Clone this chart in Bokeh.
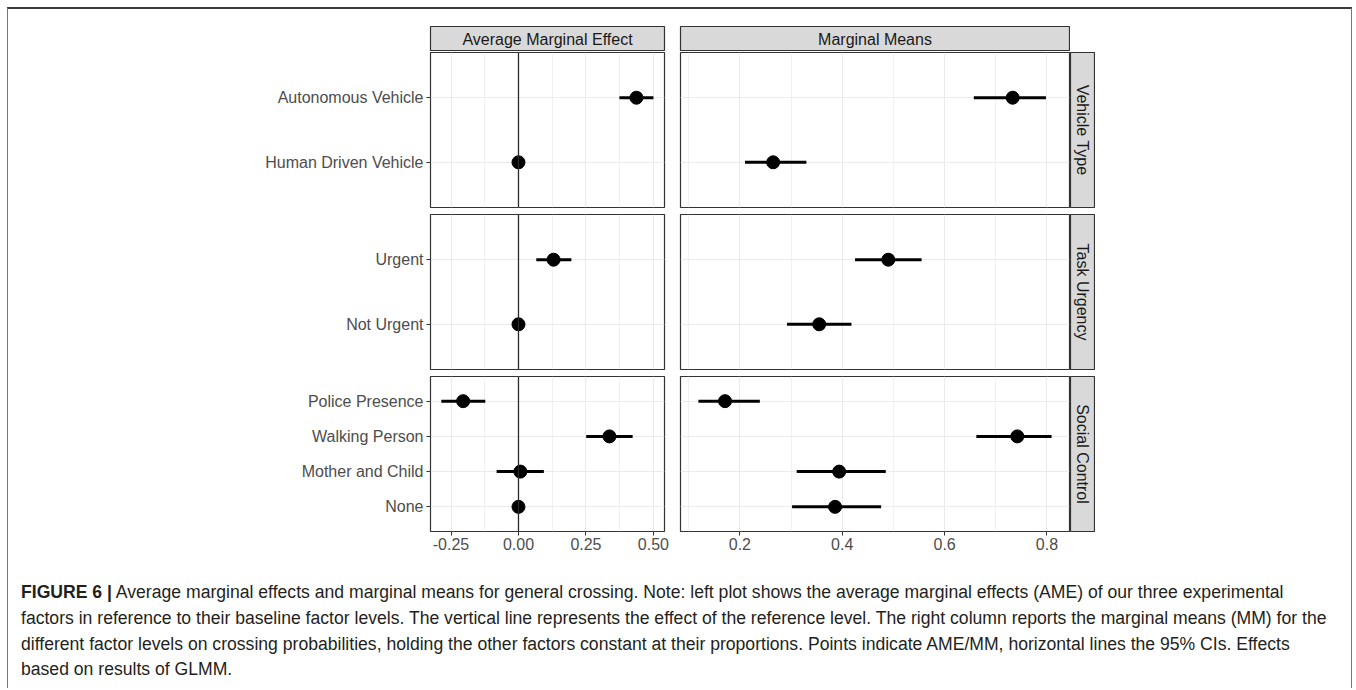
import math
from bokeh.plotting import figure
from bokeh.models import (FactorRange, Range1d, FixedTicker, Span, Label, Div,
                          CategoricalTicker, Grid, PrintfTickFormatter)
from bokeh.layouts import row, column
from bokeh.embed import file_html
from bokeh.resources import INLINE

# ---------------- data ----------------
col_titles = ["Average Marginal Effect", "Marginal Means"]
row_titles = ["Vehicle Type", "Task Urgency", "Social Control"]

vehicle_levels = ["Autonomous Vehicle", "Human Driven Vehicle"]
vehicle_ame = [0.437, 0.0]
vehicle_ame_lo = [0.374, 0.0]
vehicle_ame_hi = [0.500, 0.0]
vehicle_mm = [0.733, 0.265]
vehicle_mm_lo = [0.657, 0.210]
vehicle_mm_hi = [0.798, 0.330]

urgency_levels = ["Urgent", "Not Urgent"]
urgency_ame = [0.130, 0.0]
urgency_ame_lo = [0.066, 0.0]
urgency_ame_hi = [0.196, 0.0]
urgency_mm = [0.490, 0.355]
urgency_mm_lo = [0.425, 0.292]
urgency_mm_hi = [0.555, 0.418]

social_levels = ["Police Presence", "Walking Person", "Mother and Child", "None"]
social_ame = [-0.205, 0.337, 0.007, 0.0]
social_ame_lo = [-0.286, 0.251, -0.081, 0.0]
social_ame_hi = [-0.123, 0.423, 0.094, 0.0]
social_mm = [0.171, 0.742, 0.394, 0.386]
social_mm_lo = [0.119, 0.662, 0.311, 0.302]
social_mm_hi = [0.239, 0.809, 0.485, 0.476]

ame_ticks = [-0.25, 0.0, 0.25, 0.50]
ame_minor = [-0.125, 0.125, 0.375]
ame_limits = (-0.326, 0.541)
mm_ticks = [0.2, 0.4, 0.6, 0.8]
mm_minor = [0.1, 0.3, 0.5, 0.7]
mm_limits = (0.084, 0.844)

caption_lines = [
    "Average marginal effects and marginal means for general crossing. Note: left plot shows the average marginal effects (AME) of our three experimental",
    "factors in reference to their baseline factor levels. The vertical line represents the effect of the reference level. The right column reports the marginal means (MM) for the",
    "different factor levels on crossing probabilities, holding the other factors constant at their proportions. Points indicate AME/MM, horizontal lines the 95% CIs. Effects",
    "based on results of GLMM.",
]

# ---------------- style ----------------
FONT = "Liberation Sans"
GRID = "#EBEBEB"
DARK = "#333333"
STRIP_FILL = "#D9D9D9"
TICK_TXT = "#4D4D4D"
FS = "16px"

LEFT_W = (422, 234, 8)   # border left, frame, border right
RIGHT_W = (8, 389, 1)
FRAME_H = 155


def make_panel(levels, est, lo, hi, limits, ticks, minor, is_left, is_bottom):
    fr = FactorRange(*list(reversed(levels)), range_padding=0.2,
                     range_padding_units="absolute")
    bl, fw, br = LEFT_W if is_left else RIGHT_W
    bb = 30 if is_bottom else 6
    p = figure(width=bl + fw + br, height=1 + FRAME_H + bb,
               x_range=Range1d(*limits), y_range=fr,
               x_axis_location="below" if is_bottom else None,
               y_axis_location="left" if is_left else None,
               output_backend="svg", toolbar_location=None)
    p.min_border_left = bl
    p.min_border_right = br
    p.min_border_top = 1
    p.min_border_bottom = bb
    p.background_fill_color = "white"
    p.border_fill_color = "white"
    p.outline_line_color = DARK
    p.outline_line_width = 1.2
    p.center = [r for r in p.center if not isinstance(r, Grid)]
    p.add_layout(Grid(dimension=0, ticker=FixedTicker(ticks=ticks, minor_ticks=minor),
                      grid_line_color=GRID, grid_line_width=1.1,
                      minor_grid_line_color=GRID, minor_grid_line_width=0.7))
    p.add_layout(Grid(dimension=1, ticker=CategoricalTicker(),
                      grid_line_color=GRID, grid_line_width=1.1))
    if is_left:
        p.add_layout(Span(location=0, dimension="height", line_color="#2a2a2a",
                          line_width=1.3))
        ax = p.yaxis[0]
        ax.axis_line_color = None
        ax.major_tick_in = 0
        ax.major_tick_out = 4
        ax.major_tick_line_color = DARK
        ax.major_label_text_font = FONT
        ax.major_label_text_font_size = FS
        ax.major_label_text_color = TICK_TXT
        ax.major_label_standoff = 3
    if is_bottom:
        ax = p.xaxis[0]
        ax.ticker = FixedTicker(ticks=ticks)
        ax.formatter = PrintfTickFormatter(format="%.2f" if is_left else "%.1f")
        ax.axis_line_color = None
        ax.major_tick_in = 0
        ax.major_tick_out = 4
        ax.minor_tick_line_color = None
        ax.major_tick_line_color = DARK
        ax.major_label_text_font = FONT
        ax.major_label_text_font_size = FS
        ax.major_label_text_color = TICK_TXT
        ax.major_label_standoff = 2
    p.segment(x0=lo, y0=levels, x1=hi, y1=levels, line_color="black",
              line_width=3)
    p.scatter(x=est, y=levels, size=13, fill_color="black", line_color="black")
    return p


def strip_top(text, is_left):
    bl, fw, br = LEFT_W if is_left else RIGHT_W
    p = figure(width=bl + fw + br, height=17 + 25, x_range=Range1d(0, 1),
               y_range=Range1d(0, 1), x_axis_location=None, y_axis_location=None,
               output_backend="svg", toolbar_location=None)
    p.min_border_left = bl
    p.min_border_right = br
    p.min_border_top = 17
    p.min_border_bottom = 0
    p.grid.visible = False
    p.background_fill_color = STRIP_FILL
    p.border_fill_color = "white"
    p.outline_line_color = DARK
    p.outline_line_width = 1.2
    p.add_layout(Label(x=0.5, y=0.5, text=text, text_align="center",
                       text_baseline="middle", text_font=FONT, text_font_size=FS,
                       text_color="#1A1A1A"))
    return p


def strip_right(text, is_bottom):
    bb = 30 if is_bottom else 6
    p = figure(width=25, height=1 + FRAME_H + bb, x_range=Range1d(0, 1),
               y_range=Range1d(0, 1), x_axis_location=None, y_axis_location=None,
               output_backend="svg", toolbar_location=None)
    p.min_border_left = 0
    p.min_border_right = 1
    p.min_border_top = 1
    p.min_border_bottom = bb
    p.grid.visible = False
    p.background_fill_color = STRIP_FILL
    p.border_fill_color = "white"
    p.outline_line_color = DARK
    p.outline_line_width = 1.2
    p.add_layout(Label(x=0.5, y=0.5, text=text, text_align="center",
                       text_baseline="middle", angle=-math.pi / 2,
                       text_font=FONT, text_font_size=FS, text_color="#1A1A1A"))
    return p


data_rows = [
    (vehicle_levels, vehicle_ame, vehicle_ame_lo, vehicle_ame_hi,
     vehicle_mm, vehicle_mm_lo, vehicle_mm_hi),
    (urgency_levels, urgency_ame, urgency_ame_lo, urgency_ame_hi,
     urgency_mm, urgency_mm_lo, urgency_mm_hi),
    (social_levels, social_ame, social_ame_lo, social_ame_hi,
     social_mm, social_mm_lo, social_mm_hi),
]

rows = [row(strip_top(col_titles[0], True), strip_top(col_titles[1], False))]
for i, (lv, a, alo, ahi, m, mlo, mhi) in enumerate(data_rows):
    bottom = i == len(data_rows) - 1
    pl = make_panel(lv, a, alo, ahi, ame_limits, ame_ticks, ame_minor, True, bottom)
    pr = make_panel(lv, m, mlo, mhi, mm_limits, mm_ticks, mm_minor, False, bottom)
    rows.append(row(pl, pr, strip_right(row_titles[i], bottom)))

caption_html = (
    '<div style="font-family:\'Liberation Sans\',Arial,sans-serif;font-size:17.6px;'
    'line-height:25.8px;color:#231F20;white-space:nowrap;">'
    '<b>FIGURE 6 |</b> ' + caption_lines[0] + '<br>' +
    '<br>'.join(caption_lines[1:]) + '</div>'
)
caption = Div(text=caption_html, width=1320, height=108, margin=(19, 0, 0, 13))

layout = column(*rows, caption, width=1345, margin=(7, 0, 0, 7),
                styles={"border-top": "2px solid #3a3a3a",
                        "border-left": "1px solid #777777",
                        "border-right": "1px solid #777777"})

open("out.html", "w").write(file_html(layout, INLINE))
